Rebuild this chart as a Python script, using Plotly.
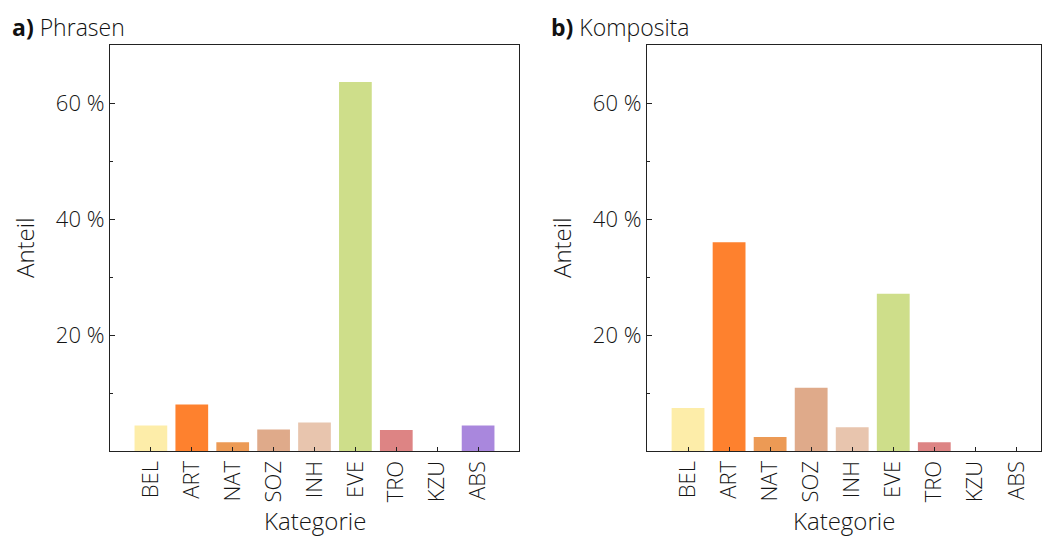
import plotly.graph_objects as go
from plotly.subplots import make_subplots

categories = ["BEL", "ART", "NAT", "SOZ", "INH", "EVE", "TRO", "KZU", "ABS"]
phrasen = [4.4, 8.0, 1.5, 3.7, 4.9, 63.6, 3.6, 0.0, 4.4]
komposita = [7.4, 36.0, 2.4, 10.9, 4.1, 27.1, 1.5, 0.0, 0.0]
colors = ["#FDEDA9", "#FE812E", "#EC9A55", "#DFAA8A", "#E8C5AE", "#CEDE8A", "#DD8484", "#B0B0B0", "#A987DD"]
y_ticks = [20, 40, 60]
y_minor = [10, 30, 50]

FONT = "Open Sans"
fig = make_subplots(rows=1, cols=2)
fig.add_trace(go.Bar(x=categories, y=phrasen, marker_color=colors, width=0.8,
                     marker_line_width=0, showlegend=False), row=1, col=1)
fig.add_trace(go.Bar(x=categories, y=komposita, marker_color=colors, width=0.8,
                     marker_line_width=0, showlegend=False), row=1, col=2)

W, H = 1044, 538
tickfont = dict(family=FONT, size=22, color="#151515", weight=300)
titlefont = dict(family=FONT, size=24, color="#151515", weight=300)
doms = [(110 / W, 519 / W), (647 / W, 1041 / W)]
rngs = [[-1, 9], [-1, 8.6]]
for i in range(2):
    ax = "xaxis" if i == 0 else "xaxis2"
    ay = "yaxis" if i == 0 else "yaxis2"
    fig.layout[ax].update(domain=list(doms[i]), range=rngs[i], showline=True, mirror=True,
                          linecolor="#222", linewidth=1.3, ticks="inside", ticklen=4,
                          tickcolor="#222", tickangle=-90, tickfont=tickfont,
                          showgrid=False, zeroline=False)
    fig.layout[ay].update(domain=[1 - 451 / H, 1 - 45 / H], range=[0, 70], showline=True, mirror=True,
                          linecolor="#222", linewidth=1.3, ticks="inside", ticklen=5,
                          tickcolor="#222", tickvals=y_ticks, ticktext=[f"{v} %" for v in y_ticks],
                          tickfont=tickfont, showgrid=False, zeroline=False,
                          minor=dict(ticks="inside", tickvals=y_minor, ticklen=3, tickcolor="#222", showgrid=False))
    xc = (doms[i][0] + doms[i][1]) / 2
    fig.add_annotation(x=xc, y=0, xref="paper", yref="paper", xanchor="center", yanchor="bottom",
                       text="Kategorie", showarrow=False, font=titlefont, borderpad=0)
    fig.add_annotation(x=doms[i][0] - 85 / W, y=1 - 248 / H, xref="paper", yref="paper", xanchor="center",
                       yanchor="middle", text="Anteil", textangle=-90, showarrow=False, font=titlefont)

fig.add_annotation(x=10 / W, y=1 - 27 / H, xref="paper", yref="paper", xanchor="left", yanchor="middle",
                   text="<b>a)</b> Phrasen", showarrow=False,
                   font=dict(family=FONT, size=23, color="#111", weight=300))
fig.add_annotation(x=549 / W, y=1 - 27 / H, xref="paper", yref="paper", xanchor="left", yanchor="middle",
                   text="<b>b)</b> Komposita", showarrow=False,
                   font=dict(family=FONT, size=23, color="#111", weight=300))

fig.update_layout(width=W, height=H, margin=dict(l=0, r=0, t=0, b=0),
                  plot_bgcolor="white", paper_bgcolor="white", bargap=0.2)
fig.write_html("out.html", config={"displayModeBar": False},
               post_script="document.body.style.margin='0px';")
